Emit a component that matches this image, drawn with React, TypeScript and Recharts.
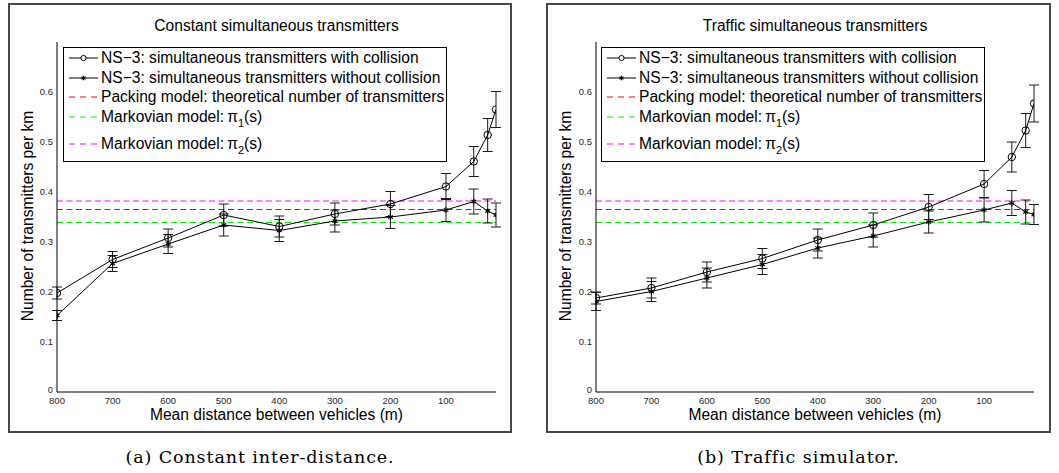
import React from 'react';
import { LineChart, Line, XAxis, YAxis, ErrorBar, ReferenceLine, Legend } from 'recharts';

// mean distance between vehicles (m)
const DISTANCES = [800, 700, 600, 500, 400, 300, 200, 100, 50, 25, 10];

// (a) constant inter-distance
const CONST_COLLISION = [0.198, 0.265, 0.308, 0.354, 0.331, 0.356, 0.376, 0.411, 0.461, 0.514, 0.565];
const CONST_COLLISION_ERR = [0.012, 0.016, 0.018, 0.022, 0.021, 0.022, 0.025, 0.026, 0.030, 0.033, 0.036];
const CONST_NO_COLLISION = [0.153, 0.257, 0.296, 0.334, 0.323, 0.342, 0.350, 0.364, 0.381, 0.362, 0.354];
const CONST_NO_COLLISION_ERR = [0.010, 0.016, 0.019, 0.022, 0.022, 0.022, 0.023, 0.023, 0.025, 0.024, 0.024];

// (b) traffic simulator
const TRAFFIC_COLLISION = [0.188, 0.208, 0.240, 0.267, 0.304, 0.334, 0.370, 0.416, 0.470, 0.523, 0.577];
const TRAFFIC_COLLISION_ERR = [0.012, 0.020, 0.020, 0.020, 0.022, 0.024, 0.025, 0.027, 0.030, 0.034, 0.037];
const TRAFFIC_NO_COLLISION = [0.181, 0.201, 0.228, 0.255, 0.288, 0.312, 0.340, 0.364, 0.378, 0.360, 0.355];
const TRAFFIC_NO_COLLISION_ERR = [0.018, 0.020, 0.020, 0.020, 0.020, 0.022, 0.022, 0.024, 0.025, 0.024, 0.020];

// model levels (horizontal dashed lines)
const PACKING_LEVEL = 0.365;
const PI1_LEVEL = 0.339;
const PI2_LEVEL = 0.382;

const X_TICKS = [800, 700, 600, 500, 400, 300, 200, 100];
const Y_TICKS = [0, 0.1, 0.2, 0.3, 0.4, 0.5, 0.6];

const SANS = '"Liberation Sans", Arial, Helvetica, sans-serif';
const SERIF = '"DejaVu Serif", serif';
const DASH = '6 3.5';
const FS = 15.6;

const buildRows = (coll: number[], collErr: number[], noColl: number[], noCollErr: number[]) =>
  DISTANCES.map((x, i) => ({
    x,
    collision: coll[i],
    collisionErr: collErr[i],
    noCollision: noColl[i],
    noCollisionErr: noCollErr[i],
  }));

const StarShape = ({ cx, cy, r = 2.8 }: { cx: number; cy: number; r?: number }) => {
  const dx = r * Math.cos(Math.PI / 6);
  const dy = r * Math.sin(Math.PI / 6);
  return (
    <g stroke="#000" strokeWidth={1.2}>
      <line x1={cx} y1={cy - r} x2={cx} y2={cy + r} />
      <line x1={cx - dx} y1={cy - dy} x2={cx + dx} y2={cy + dy} />
      <line x1={cx - dx} y1={cy + dy} x2={cx + dx} y2={cy - dy} />
    </g>
  );
};

const starDot = (props: any) => {
  const { cx, cy, index } = props;
  if (cx == null || cy == null) return <g key={`s-${index}`} />;
  return (
    <g key={`s-${index}`}>
      <StarShape cx={cx} cy={cy} />
    </g>
  );
};

// y tick: the "0" label sits a little higher so it clears the x labels
const YTick = (props: any) => {
  const { x, y, payload } = props;
  const lift = payload.value === 0 ? -2 : 0;
  return (
    <text x={x} y={y + lift} dy="0.355em" textAnchor="end" fontSize={9.5} fill="#262626" fontFamily={SANS}>
      {payload.value}
    </text>
  );
};

const LegendRow = ({ top, sample, children }: { top: number; sample: React.ReactNode; children: React.ReactNode }) => (
  <div style={{ position: 'absolute', left: 0, top: top - 10, height: 20, display: 'flex', alignItems: 'center', whiteSpace: 'nowrap' }}>
    <svg width={37} height={20} style={{ display: 'block', flex: 'none' }}>
      {sample}
    </svg>
    <span style={{ lineHeight: '20px' }}>{children}</span>
  </div>
);

const solidSample = (marker: 'circle' | 'star') => (
  <g>
    <line x1={5} y1={10} x2={34} y2={10} stroke="#000" strokeWidth={1} />
    {marker === 'circle' ? (
      <circle cx={19.5} cy={10} r={2.6} fill="#fff" stroke="#000" strokeWidth={1} />
    ) : (
      <StarShape cx={19.5} cy={10} r={2.3} />
    )}
  </g>
);

const dashSample = (color: string) => (
  <line x1={5} y1={10} x2={34} y2={10} stroke={color} strokeWidth={1} strokeDasharray="6 5" />
);

const Sub = ({ children }: { children: React.ReactNode }) => (
  <span style={{ fontSize: 11, position: 'relative', top: 5 }}>{children}</span>
);

const LegendBox = () => (
  <div
    style={{
      position: 'relative',
      width: 384,
      height: 115,
      border: '1px solid #000',
      boxSizing: 'border-box',
      background: '#fff',
      fontFamily: SANS,
      fontSize: FS,
      color: '#000',
    }}
  >
    <LegendRow top={10} sample={solidSample('circle')}>NS−3: simultaneous transmitters with collision</LegendRow>
    <LegendRow top={30} sample={solidSample('star')}>NS−3: simultaneous transmitters without collision</LegendRow>
    <LegendRow top={49.5} sample={dashSample('#ff0000')}>Packing model: theoretical number of transmitters</LegendRow>
    <LegendRow top={69.5} sample={dashSample('#00ee00')}>
      Markovian model:{'\u2009'}π<Sub>1</Sub>(s)
    </LegendRow>
    <LegendRow top={96.5} sample={dashSample('#ff00ff')}>
      Markovian model:{'\u2009'}π<Sub>2</Sub>(s)
    </LegendRow>
  </div>
);

type PanelProps = {
  left: number;
  width: number;
  marginLeft: number;
  marginRight: number;
  title: string;
  caption: string;
  rows: ReturnType<typeof buildRows>;
};

const TOP = 3;
const HEIGHT = 430;

const Panel = ({ left, width, marginLeft, marginRight, title, caption, rows }: PanelProps) => {
  const plotLeft = left + marginLeft + 40;
  const plotRight = left + width - marginRight;
  const plotCenter = (plotLeft + plotRight) / 2;
  const tick = { fontSize: 9.5, fill: '#262626', fontFamily: SANS };
  return (
    <>
      <div
        style={{
          position: 'absolute',
          left,
          top: TOP,
          width,
          height: HEIGHT,
          border: '2px solid #474747',
          boxSizing: 'border-box',
        }}
      />
      <div style={{ position: 'absolute', left, top: TOP, width, height: HEIGHT }}>
        <LineChart
          width={width}
          height={HEIGHT}
          data={rows}
          margin={{ top: 39, right: marginRight, bottom: 11, left: marginLeft }}
        >
          <XAxis
            dataKey="x"
            type="number"
            domain={[10, 800]}
            reversed
            ticks={X_TICKS}
            height={30}
            tickSize={0}
            tickMargin={5}
            tick={tick}
            axisLine={{ stroke: '#000', strokeWidth: 1 }}
            allowDataOverflow
          />
          <YAxis
            type="number"
            domain={[0, 0.7]}
            ticks={Y_TICKS}
            width={40}
            tickSize={0}
            tickMargin={4}
            tick={<YTick />}
            axisLine={{ stroke: '#000', strokeWidth: 1 }}
            allowDataOverflow
          />
          <ReferenceLine y={PI2_LEVEL} stroke="#ff00ff" strokeDasharray={DASH} strokeWidth={1} />
          <ReferenceLine y={PACKING_LEVEL} stroke="#ff0000" strokeDasharray={DASH} strokeWidth={1} />
          <ReferenceLine y={PI1_LEVEL} stroke="#00ee00" strokeDasharray={DASH} strokeWidth={1} />
          <Line
            dataKey="collision"
            stroke="#000"
            strokeWidth={1}
            dot={{ r: 3.7, fill: 'none', stroke: '#000', strokeWidth: 1 }}
            isAnimationActive={false}
          >
            <ErrorBar dataKey="collisionErr" direction="y" width={5} stroke="#1a1a1a" strokeWidth={1} />
          </Line>
          <Line
            dataKey="noCollision"
            stroke="#000"
            strokeWidth={1}
            dot={starDot}
            isAnimationActive={false}
          >
            <ErrorBar dataKey="noCollisionErr" direction="y" width={5} stroke="#1a1a1a" strokeWidth={1} />
          </Line>
          <Legend
            layout="horizontal"
            verticalAlign="middle"
            align="center"
            content={() => <LegendBox />}
            wrapperStyle={{ left: 55, top: 43.5, width: 384, height: 115 }}
          />
        </LineChart>
      </div>
      <div
        style={{
          position: 'absolute',
          left: plotCenter - 200,
          width: 400,
          top: 17,
          textAlign: 'center',
          fontFamily: SANS,
          fontSize: FS,
          lineHeight: '18px',
          color: '#000',
        }}
      >
        {title}
      </div>
      <div
        style={{
          position: 'absolute',
          left: plotCenter - 200,
          width: 400,
          top: 406,
          textAlign: 'center',
          fontFamily: SANS,
          fontSize: FS,
          lineHeight: '18px',
          color: '#000',
        }}
      >
        Mean distance between vehicles (m)
      </div>
      <div
        style={{
          position: 'absolute',
          left: left + 20,
          top: 216,
          transform: 'translate(-50%, -50%) rotate(-90deg)',
          whiteSpace: 'nowrap',
          fontFamily: SANS,
          fontSize: FS,
          lineHeight: '18px',
          color: '#000',
        }}
      >
        Number of transmitters per km
      </div>
      <div
        style={{
          position: 'absolute',
          left: left + width / 2 - 250,
          width: 500,
          top: 447,
          textAlign: 'center',
          fontFamily: SERIF,
          fontSize: 17.5,
          letterSpacing: 0.9,
          lineHeight: '20px',
          color: '#000',
        }}
      >
        {caption}
      </div>
    </>
  );
};

const constantRows = buildRows(CONST_COLLISION, CONST_COLLISION_ERR, CONST_NO_COLLISION, CONST_NO_COLLISION_ERR);
const trafficRows = buildRows(TRAFFIC_COLLISION, TRAFFIC_COLLISION_ERR, TRAFFIC_NO_COLLISION, TRAFFIC_NO_COLLISION_ERR);

export default function App() {
  return (
    <div style={{ position: 'absolute', left: 0, top: 0, width: 1059, height: 473, background: '#fff', overflow: 'hidden' }}>
      <Panel
        left={8}
        width={504}
        marginLeft={9}
        marginRight={16}
        title="Constant simultaneous transmitters"
        caption="(a) Constant inter-distance."
        rows={constantRows}
      />
      <Panel
        left={546}
        width={505}
        marginLeft={10}
        marginRight={17}
        title="Traffic simultaneous transmitters"
        caption="(b) Traffic simulator."
        rows={trafficRows}
      />
    </div>
  );
}
